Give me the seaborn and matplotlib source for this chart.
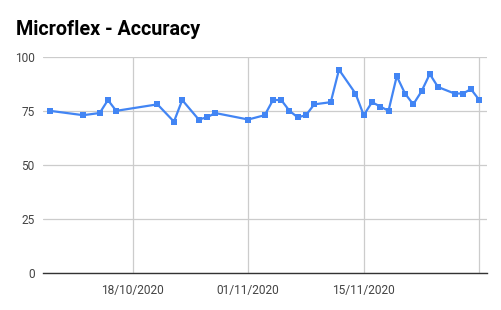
import matplotlib
matplotlib.use("Agg")
import matplotlib.pyplot as plt
import matplotlib.dates as mdates
import seaborn as sns
import pandas as pd

dates = ["2020-10-08", "2020-10-12", "2020-10-14", "2020-10-15", "2020-10-16",
         "2020-10-21", "2020-10-23", "2020-10-24", "2020-10-26", "2020-10-27",
         "2020-10-28", "2020-11-01", "2020-11-03", "2020-11-04", "2020-11-05",
         "2020-11-06", "2020-11-07", "2020-11-08", "2020-11-09", "2020-11-11",
         "2020-11-12", "2020-11-14", "2020-11-15", "2020-11-16", "2020-11-17",
         "2020-11-18", "2020-11-19", "2020-11-20", "2020-11-21", "2020-11-22",
         "2020-11-23", "2020-11-24", "2020-11-26", "2020-11-27", "2020-11-28",
         "2020-11-29"]
accuracy = [75, 73, 74, 80, 75,
            78, 70, 80, 71, 72,
            74, 71, 73, 80, 80,
            75, 72, 73, 78, 79,
            94, 83, 73, 79, 77,
            75, 91, 83, 78, 84,
            92, 86, 83, 83, 85,
            80]
tick_dates = ["2020-10-18", "2020-11-01", "2020-11-15", "2020-11-29"]
tick_labels = ["18/10/2020", "01/11/2020", "15/11/2020", ""]
y_ticks = [0, 25, 50, 75, 100]
title = "Microflex - Accuracy"

df = pd.DataFrame({"date": pd.to_datetime(dates), "accuracy": accuracy})

sns.set_theme(style="white")
plt.rcParams["font.family"] = ["Roboto", "DejaVu Sans"]

fig = plt.figure(figsize=(5.02, 3.10), dpi=100)
ax = fig.add_axes([43 / 502, 1 - 273.3 / 310, (486.7 - 43) / 502, (273.3 - 56.7) / 310])

sns.lineplot(data=df, x="date", y="accuracy", ax=ax, color="#4285F4",
             linewidth=1.6, marker="s", markersize=5.0, markeredgewidth=0,
             zorder=3)

tick_dt = pd.to_datetime(tick_dates)
ax.set_xticks(mdates.date2num(tick_dt))
ax.set_xticklabels(tick_labels)
x0 = mdates.date2num(pd.Timestamp("2020-10-18")) - 10.87
x1 = mdates.date2num(pd.Timestamp("2020-11-29")) + 0.9
ax.set_xlim(x0, x1)
ax.set_ylim(0, 100)
ax.set_yticks(y_ticks)

ax.grid(True, color="#cccccc", linewidth=0.9)
ax.set_axisbelow(True)
for s in ["top", "right", "left"]:
    ax.spines[s].set_visible(False)
ax.spines["bottom"].set_color("#333333")
ax.spines["bottom"].set_linewidth(1.0)
ax.spines["bottom"].set_zorder(2)

ax.tick_params(axis="both", length=0, labelsize=8.6, labelcolor="#444444")
ax.tick_params(axis="y", pad=6)
ax.tick_params(axis="x", pad=8)
ax.set_xlabel("")
ax.set_ylabel("")

fig.text(16 / 502, 1 - 35 / 310, title, fontsize=14.2, fontweight="bold",
         color="#000000", ha="left", va="baseline")

fig.savefig("out.png", dpi=100)
